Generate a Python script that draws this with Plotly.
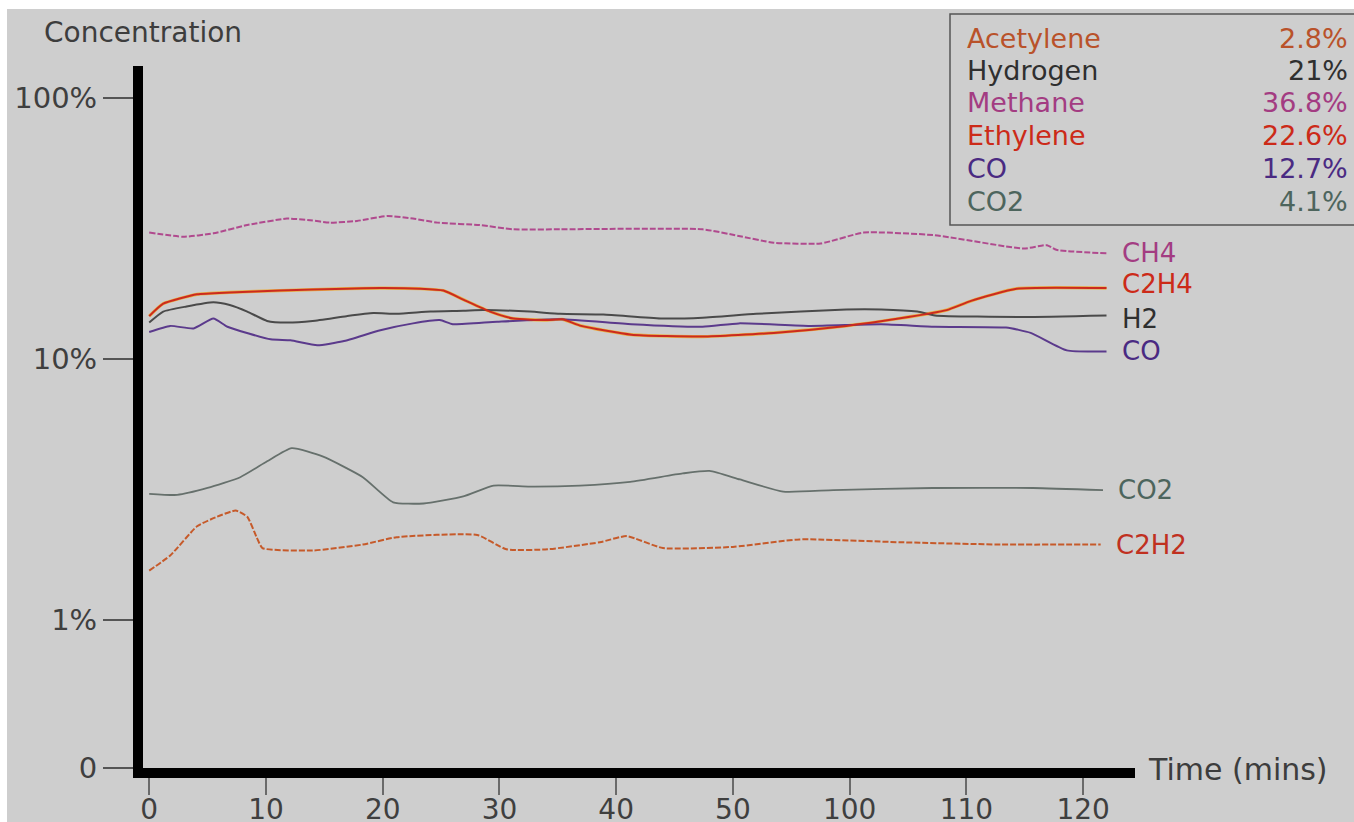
import math
import plotly.graph_objects as go

W, H = 1354, 822
L, R, T, B = 143, 1135, 66, 768  # plot-area box in pixels

# x axis: evenly spaced labelled ticks (0..50, then 100..120 minutes)
x_tickvals = [0, 10, 20, 30, 40, 50, 60, 70, 80]
x_ticktext = ["0", "10", "20", "30", "40", "50", "100", "110", "120"]

# concentrations in percent
ch4_x = [0, 2.9, 5.5, 8.4, 11.8, 13.8, 15.5, 17.8, 20.4, 22.6, 24.7, 28.3, 31.2, 35.2, 47.4, 50.5, 53.5, 57.5, 61.2, 67.3, 74.9, 76.9, 77.7, 82.0]
ch4_y = [30.5, 29.4, 30.3, 32.6, 34.5, 34.0, 33.3, 33.8, 35.3, 34.5, 33.3, 32.6, 31.4, 31.4, 31.4, 29.6, 27.9, 27.7, 30.5, 29.8, 26.5, 27.3, 26.2, 25.4]

c2h4_x = [0, 1.2, 4.1, 6.9, 11.2, 16.9, 19.8, 23.2, 25.2, 26.9, 29.2, 31.2, 34.1, 35.4, 37.0, 41.3, 47.4, 53.5, 59.7, 64.2, 68.3, 70.4, 74.3, 82.0]
c2h4_y = [14.6, 16.3, 17.7, 18.0, 18.3, 18.6, 18.7, 18.6, 18.3, 16.9, 15.2, 14.3, 14.1, 14.2, 13.4, 12.4, 12.2, 12.6, 13.4, 14.3, 15.4, 16.7, 18.6, 18.7]

h2_x = [0, 1.2, 3.2, 5.5, 6.9, 8.4, 10.1, 11.8, 14.0, 16.9, 19.2, 21.2, 24.1, 26.9, 28.6, 32.6, 35.2, 38.9, 43.8, 47.4, 52.0, 59.7, 62.7, 65.8, 67.3, 74.9, 82.0]
h2_y = [13.8, 15.2, 15.9, 16.5, 16.1, 15.2, 14.0, 13.8, 14.0, 14.6, 15.0, 14.9, 15.2, 15.3, 15.4, 15.2, 14.9, 14.8, 14.3, 14.4, 14.9, 15.5, 15.5, 15.2, 14.7, 14.5, 14.7]

co_x = [0, 1.8, 3.8, 5.5, 6.7, 10.4, 12.1, 14.4, 16.6, 19.8, 22.6, 24.9, 26.0, 29.8, 35.2, 41.3, 47.4, 50.5, 56.6, 62.7, 67.3, 73.4, 75.5, 78.6, 82.0]
co_y = [12.7, 13.4, 13.1, 14.3, 13.3, 11.9, 11.8, 11.3, 11.7, 12.9, 13.7, 14.1, 13.6, 13.9, 14.2, 13.6, 13.3, 13.7, 13.4, 13.6, 13.3, 13.2, 12.6, 10.8, 10.7]

co2_x = [0, 2.4, 5.0, 7.8, 10.1, 12.2, 14.9, 18.3, 20.9, 23.5, 26.9, 29.5, 32.6, 36.9, 41.2, 45.7, 48.0, 50.6, 54.3, 58.6, 67.1, 75.7, 81.7]
co2_y = [3.05, 3.02, 3.21, 3.53, 4.06, 4.56, 4.23, 3.53, 2.83, 2.80, 2.98, 3.28, 3.25, 3.28, 3.39, 3.65, 3.73, 3.46, 3.11, 3.15, 3.21, 3.21, 3.15]

c2h2_x = [0, 1.8, 4.1, 5.8, 7.4, 8.4, 9.2, 9.7, 14.0, 18.3, 21.2, 28.1, 30.6, 34.1, 38.6, 40.9, 44.0, 50.0, 55.7, 64.3, 72.9, 81.5]
c2h2_y = [1.55, 1.77, 2.29, 2.49, 2.63, 2.49, 2.08, 1.89, 1.85, 1.95, 2.08, 2.12, 1.87, 1.87, 1.99, 2.10, 1.89, 1.91, 2.04, 1.99, 1.95, 1.95]

y_tick_labels = ["0", "1%", "10%", "100%"]

legend_names = ["Acetylene", "Hydrogen", "Methane", "Ethylene", "CO", "CO2"]
legend_values = ["2.8%", "21%", "36.8%", "22.6%", "12.7%", "4.1%"]
legend_colors = ["#b9522a", "#2f2f2f", "#a33c82", "#cc2a18", "#4a2a82", "#4d655d"]

FONT = "DejaVu Sans"
BG = "#cecece"


def pxx(px):
    return (px - L) / (R - L)


def pxy(py):
    return (B - py) / (B - T)


# log-axis range chosen from pixel anchors (100% ~ y98, 1% ~ y620)
Y_LO, Y_HI = -0.5655, 2.1221
X_LO, X_HI = -0.531, 84.44

fig = go.Figure()

series = [
    ("CH4", ch4_x, ch4_y, "#b04a8e", 2.0, "6px,2px"),
    ("C2H2", c2h2_x, c2h2_y, "#c65a2a", 2.0, "6px,2px"),
    ("CO2", co2_x, co2_y, "#66706c", 1.8, "solid"),
    ("H2", h2_x, h2_y, "#4a4a4a", 2.0, "solid"),
    ("CO", co_x, co_y, "#5b3a8c", 2.0, "solid"),
]

# C2H4 with faint orange halo
fig.add_trace(go.Scatter(x=c2h4_x, y=c2h4_y, mode="lines",
                         line=dict(color="#e8b048", width=3.2, shape="spline", smoothing=0.5),
                         hoverinfo="skip"))

for name, xs, ys, col, w, dash in series:
    fig.add_trace(go.Scatter(x=xs, y=ys, mode="lines", name=name,
                             line=dict(color=col, width=w, dash=dash, shape="spline", smoothing=0.5)))

fig.add_trace(go.Scatter(x=c2h4_x, y=c2h4_y, mode="lines", name="C2H4",
                         line=dict(color="#cc2a1e", width=2, shape="spline", smoothing=0.5)))

annotations = []
end_labels = [
    ("CH4", ch4_x, ch4_y, "#a33c82", 0),
    ("C2H4", c2h4_x, c2h4_y, "#cc2a18", 4),
    ("H2", h2_x, h2_y, "#2f2f2f", -4),
    ("CO", co_x, co_y, "#4a2a82", 0),
    ("CO2", co2_x, co2_y, "#4d655d", 0),
    ("C2H2", c2h2_x, c2h2_y, "#c0301f", 0),
]
for name, xs, ys, col, ysh in end_labels:
    annotations.append(dict(x=xs[-1], y=math.log10(ys[-1]), xref="x", yref="y",
                            text=name, showarrow=False, xanchor="left", yanchor="middle",
                            xshift=13, yshift=ysh, font=dict(family=FONT, size=26, color=col)))

annotations.append(dict(x=pxx(42), y=pxy(33), xref="paper", yref="paper", text="Concentration",
                        showarrow=False, xanchor="left", yanchor="middle",
                        font=dict(family=FONT, size=28, color="#3d3d3d")))
annotations.append(dict(x=pxx(1146), y=pxy(769), xref="paper", yref="paper", text="Time (mins)",
                        showarrow=False, xanchor="left", yanchor="middle",
                        font=dict(family=FONT, size=30, color="#3d3d3d")))

row_y = [38, 70.5, 103, 135.5, 168, 201]
for i, (nm, val, col) in enumerate(zip(legend_names, legend_values, legend_colors)):
    annotations.append(dict(x=pxx(965), y=pxy(row_y[i]), xref="paper", yref="paper", text=nm,
                            showarrow=False, xanchor="left", yanchor="middle",
                            font=dict(family=FONT, size=27, color=col)))
    annotations.append(dict(x=pxx(1350), y=pxy(row_y[i]), xref="paper", yref="paper", text=val,
                            showarrow=False, xanchor="right", yanchor="middle",
                            font=dict(family=FONT, size=27, color=col)))

shapes = [
    dict(type="rect", xref="paper", yref="paper", x0=pxx(950), x1=pxx(1362), y0=pxy(225), y1=pxy(14),
         line=dict(color="#555555", width=1.5), fillcolor="rgba(0,0,0,0)"),
    dict(type="rect", xref="paper", yref="paper", x0=pxx(-5), x1=pxx(1360), y0=pxy(9), y1=pxy(-5),
         line=dict(width=0), fillcolor="white"),
    dict(type="rect", xref="paper", yref="paper", x0=pxx(-5), x1=pxx(7), y0=pxy(830), y1=pxy(-5),
         line=dict(width=0), fillcolor="white"),
]

fig.update_layout(
    width=W, height=H, autosize=False,
    margin=dict(l=L, r=W - R, t=T, b=H - B, pad=0),
    paper_bgcolor=BG, plot_bgcolor=BG,
    showlegend=False,
    font=dict(family=FONT, color="#3f3f3f"),
    annotations=annotations,
    shapes=shapes,
    xaxis=dict(range=[X_LO, X_HI], showgrid=False, zeroline=False, automargin=False,
               showline=True, linecolor="black", linewidth=10,
               ticks="outside", ticklen=17, tickwidth=1.5, tickcolor="#6a6a6a",
               ticklabelstandoff=-10,
               tickvals=x_tickvals, ticktext=x_ticktext,
               tickfont=dict(family=FONT, size=28, color="#3f3f3f")),
    yaxis=dict(type="log", range=[Y_LO, Y_HI], showgrid=False, zeroline=False, automargin=False,
               showline=True, linecolor="black", linewidth=10,
               ticks="outside", ticklen=30, tickwidth=1.5, tickcolor="#555555",
               tickvals=[10 ** (Y_LO + 0.001), 1, 10, 100], ticktext=y_tick_labels,
               tickfont=dict(family=FONT, size=29, color="#3f3f3f")),
)

fig.write_html("out.html", config={"displayModeBar": False},
               post_script="document.body.style.margin='0';document.body.style.overflow='hidden';")
